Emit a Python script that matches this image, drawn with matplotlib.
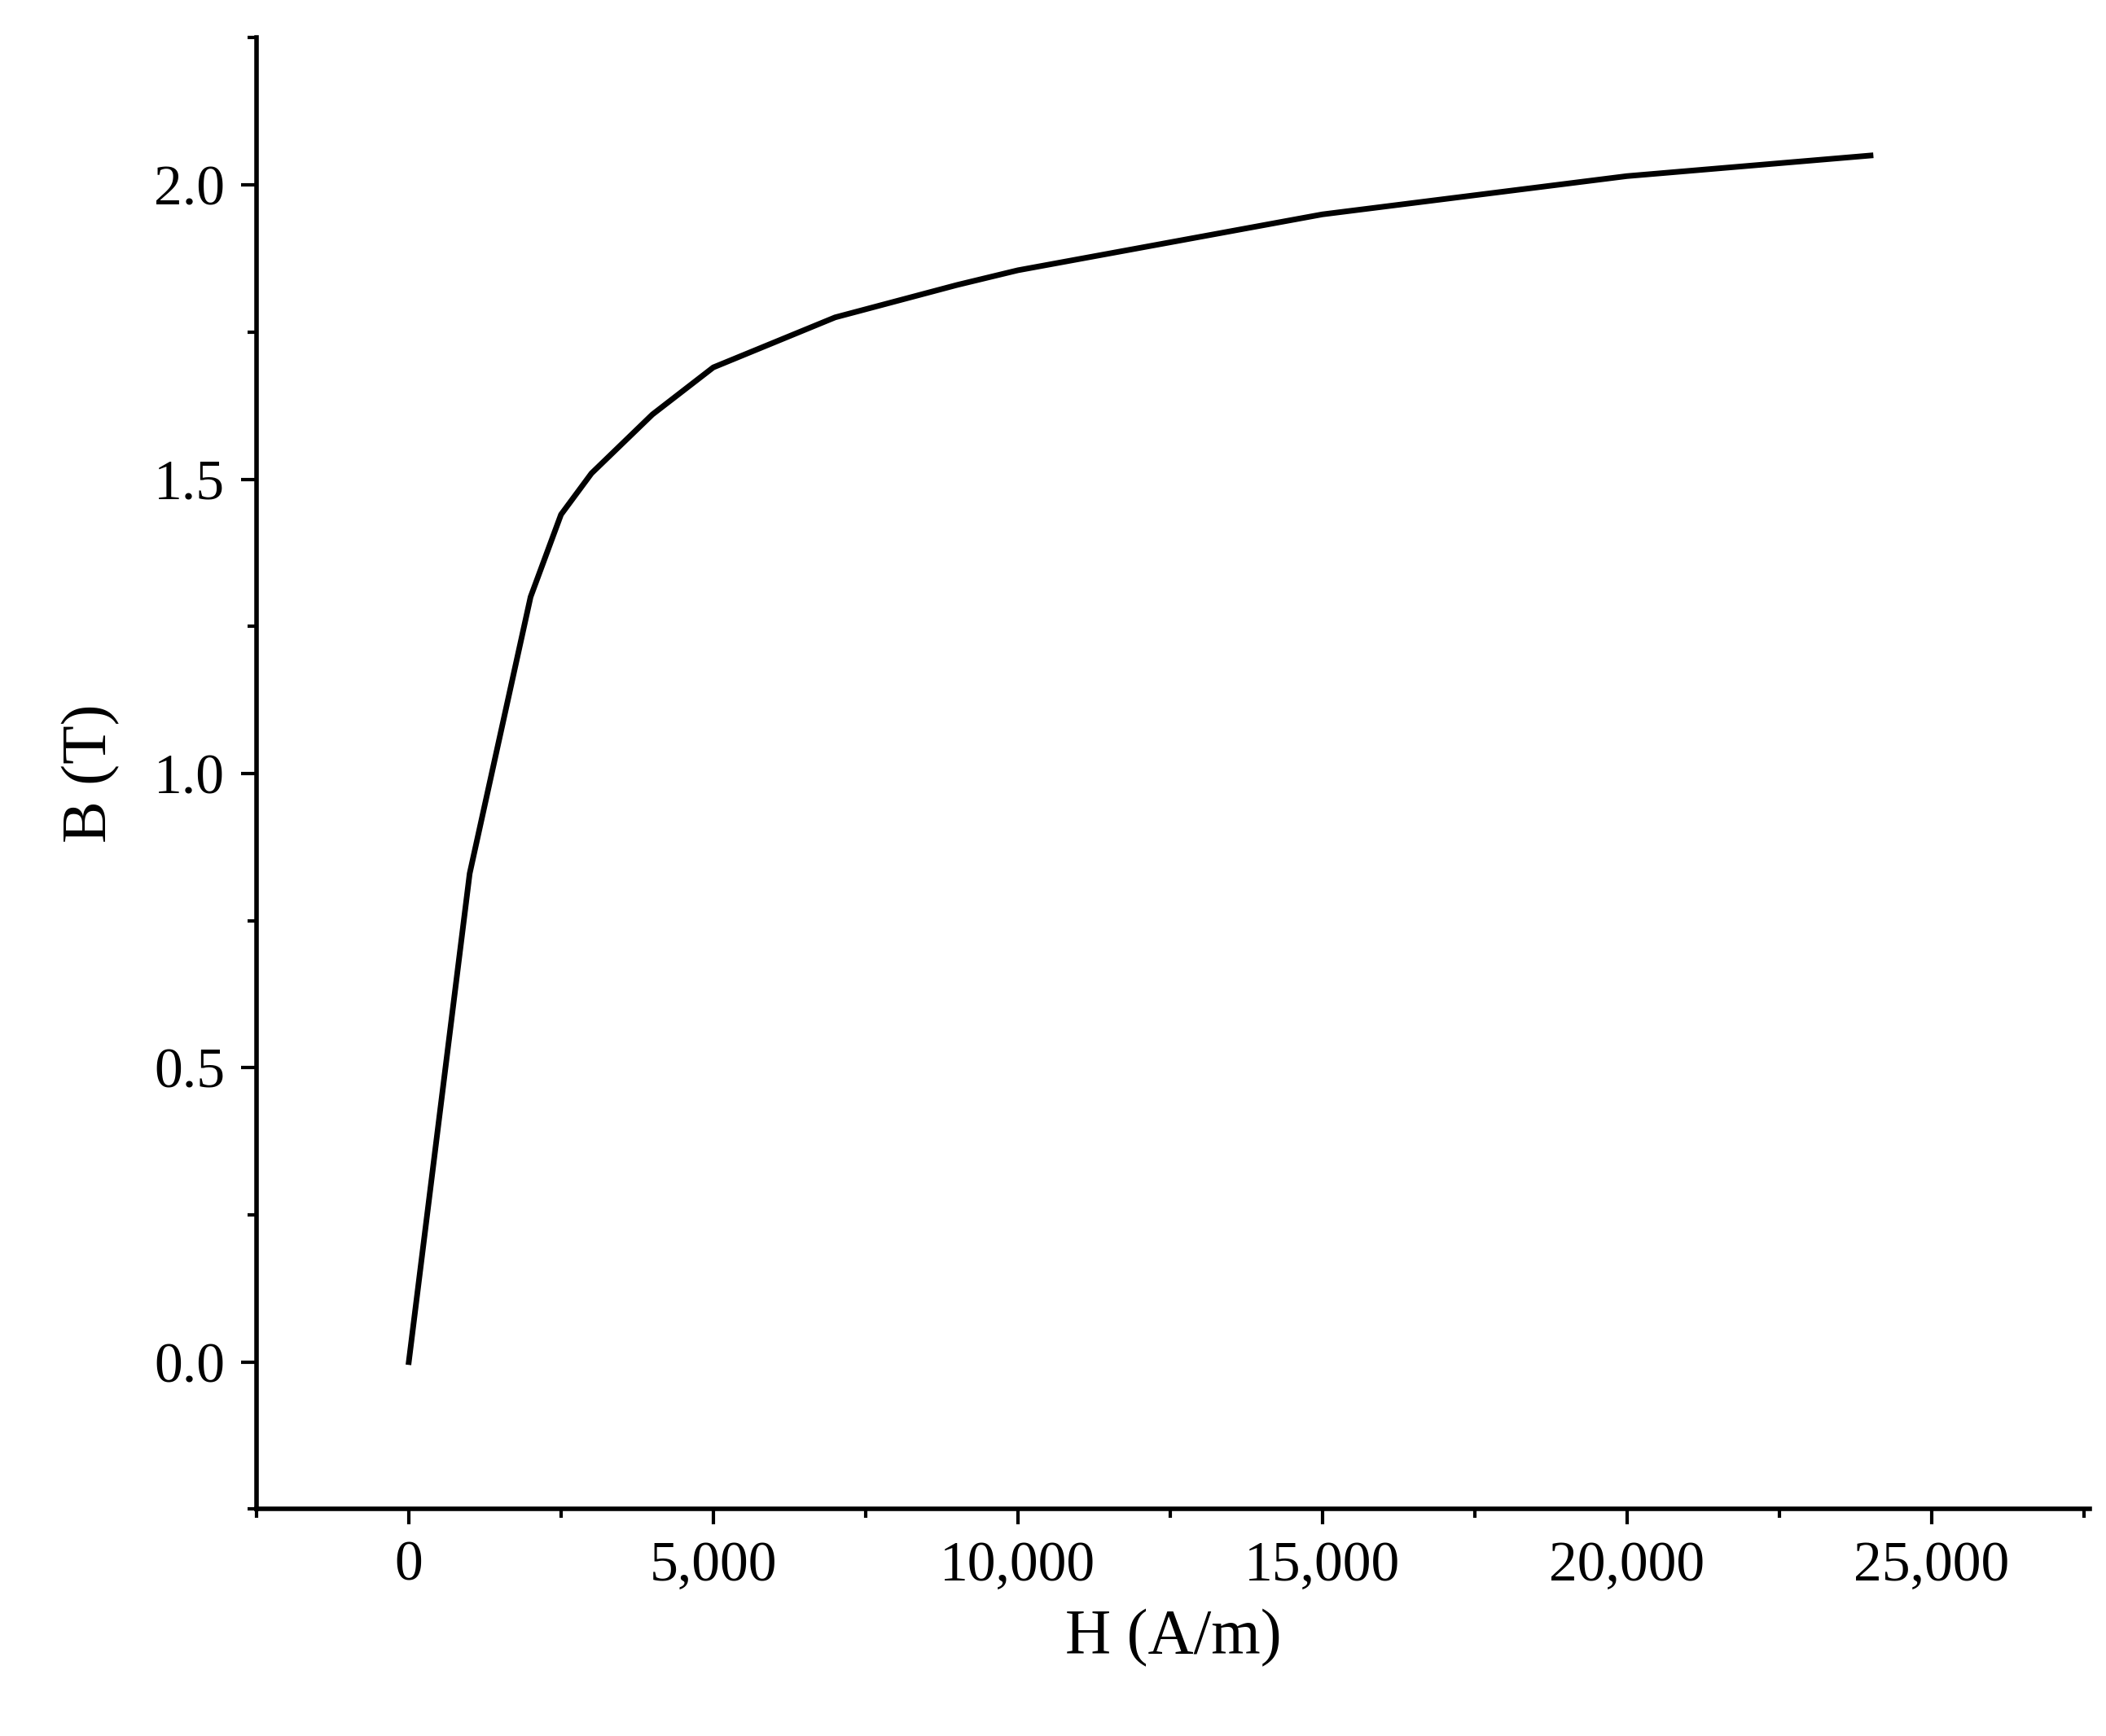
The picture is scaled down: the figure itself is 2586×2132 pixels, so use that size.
import matplotlib
matplotlib.use("Agg")
import matplotlib.pyplot as plt
from matplotlib.ticker import FuncFormatter, MultipleLocator

# B-H curve values
H = [0, 1000, 2000, 2500, 3000, 4000, 5000, 7000, 9000, 10000, 15000, 20000, 24000]
B = [0, 0.83, 1.30, 1.44, 1.51, 1.61, 1.69, 1.775, 1.83, 1.855, 1.95, 2.015, 2.05]

plt.rcParams['font.family'] = ['Liberation Serif', 'DejaVu Serif']

fig = plt.figure(figsize=[25.86, 21.32], dpi=100)
ax = fig.add_axes([190 / 1560, 1 - 1118 / 1286, (1548 - 190) / 1560, (1118 - 28) / 1286])
ax.plot(H, B, color='black', lw=5)

ax.set_xlim(-2500, 27600)
ax.set_ylim(-0.25, 2.25)
ax.xaxis.set_major_locator(MultipleLocator(5000))
ax.xaxis.set_minor_locator(MultipleLocator(2500))
ax.yaxis.set_major_locator(MultipleLocator(0.5))
ax.yaxis.set_minor_locator(MultipleLocator(0.25))
ax.xaxis.set_major_formatter(FuncFormatter(lambda v, p: f'{int(v):,}'))
ax.yaxis.set_major_formatter(FuncFormatter(lambda v, p: f'{v:.1f}'))

for s in ['top', 'right']:
    ax.spines[s].set_visible(False)
for s in ['left', 'bottom']:
    ax.spines[s].set_linewidth(4)
ax.tick_params(which='major', direction='out', length=14, width=3, labelsize=50, pad=14)
ax.tick_params(which='minor', direction='out', length=8, width=3)

ax.set_xlabel('H (A/m)', fontsize=56, labelpad=14)
ax.set_ylabel('B (T)', fontsize=56, labelpad=30)

fig.savefig('out.png', dpi=100)
